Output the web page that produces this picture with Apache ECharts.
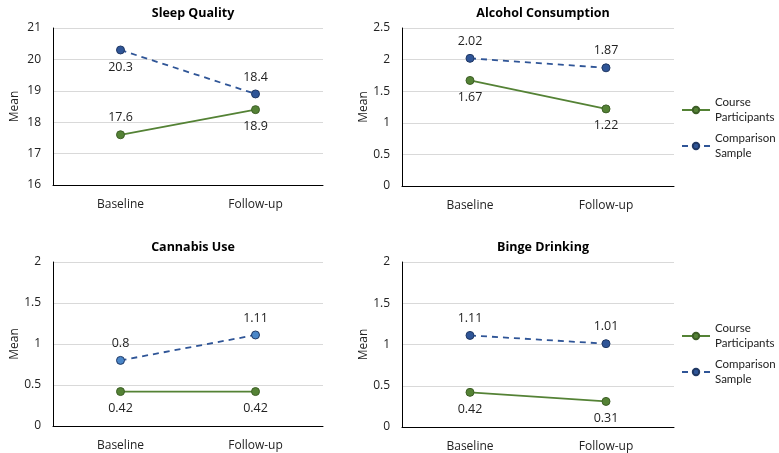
<!DOCTYPE html><html><head><meta charset="utf-8"><script src="https://cdn.jsdelivr.net/npm/echarts@6/dist/echarts.min.js"></script>
<style>body{margin:0}#c{width:779px;height:453px}</style></head><body><div id="c"></div><script>
const categories=['Baseline','Follow-up'];
const titles=['Sleep Quality','Alcohol Consumption','Cannabis Use','Binge Drinking'];
const courseVals=[[17.6,18.4],[1.67,1.22],[0.42,0.42],[0.42,0.31]];
const compVals=[[20.3,18.9],[2.02,1.87],[0.8,1.11],[1.11,1.01]];
const courseLabels=[['17.6','18.9'],['1.67','1.22'],['0.42','0.42'],['0.42','0.31']];
const compLabels=[['20.3','18.4'],['2.02','1.87'],['0.8','1.11'],['1.11','1.01']];
const courseLabelPos=[['top','bottom'],['bottom','bottom'],['bottom','bottom'],['bottom','bottom']];
const compLabelPos=[['bottom','top'],['top','top'],['top','top'],['top','top']];
const yMin=[16,0,0,0],yMax=[21,2.5,2,2],yInt=[1,0.5,0.5,0.5];
const green='#548235',blue='#2f5597',lightBlue='#4a86c8';
const grids=[{left:53,top:28,width:270,height:157},{left:402,top:28,width:272,height:158},{left:53,top:262,width:270,height:164},{left:402,top:262,width:272,height:165}];
const font='"Open Sans", sans-serif';
const opt={animation:false,title:[],grid:grids,xAxis:[],yAxis:[],series:[],legend:[]};
grids.forEach((g,i)=>{
 opt.title.push({text:titles[i],left:g.left+g.width/2,top:g.top-26,textAlign:'center',textStyle:{fontFamily:font,fontSize:12.5,fontWeight:'bold',color:'#000'}});
 opt.xAxis.push({type:'category',gridIndex:i,data:categories,axisTick:{show:false},axisLine:{lineStyle:{color:'#000',width:1}},axisLabel:{fontFamily:font,fontSize:12,color:'#222',margin:14}});
 opt.yAxis.push({type:'value',gridIndex:i,min:yMin[i],max:yMax[i],interval:yInt[i],name:'Mean',nameLocation:'middle',nameGap:32,nameTextStyle:{fontFamily:font,fontSize:12,color:'#222'},axisLine:{show:true,lineStyle:{color:'#000'}},axisLabel:{fontFamily:font,fontSize:12,color:'#222',margin:12},splitLine:{lineStyle:{color:'#d9d9d9'}}});
 const lbl={show:true,fontFamily:font,fontSize:12.5,color:'#222',distance:6};
 const cb=i===2?lightBlue:blue;
 opt.series.push({name:'Course Participants',type:'line',xAxisIndex:i,yAxisIndex:i,symbol:'circle',symbolSize:8,color:green,lineStyle:{width:1.8,color:green},itemStyle:{color:green,borderColor:'#3d5e26',borderWidth:1},
  data:courseVals[i].map((v,j)=>({value:v,label:Object.assign({},lbl,{position:courseLabelPos[i][j],formatter:courseLabels[i][j]})}))});
 opt.series.push({name:'Comparison Sample',type:'line',xAxisIndex:i,yAxisIndex:i,symbol:'circle',symbolSize:8,color:blue,lineStyle:{width:1.8,type:[6,5],color:blue},itemStyle:{color:cb,borderColor:'#203864',borderWidth:1},
  data:compVals[i].map((v,j)=>({value:v,label:Object.assign({},lbl,{position:compLabelPos[i][j],formatter:compLabels[i][j]})}))});
});
[{top:90},{top:316}].forEach(p=>opt.legend.push({left:676,top:p.top,orient:'vertical',itemGap:6,itemWidth:28,itemHeight:8,textStyle:{fontFamily:'Lato, sans-serif',fontSize:11.5,color:'#222',lineHeight:15},
 formatter:n=>n.replace(' ','\n'),data:['Course Participants','Comparison Sample']}));
echarts.init(document.getElementById('c')).setOption(opt);
</script></body></html>
